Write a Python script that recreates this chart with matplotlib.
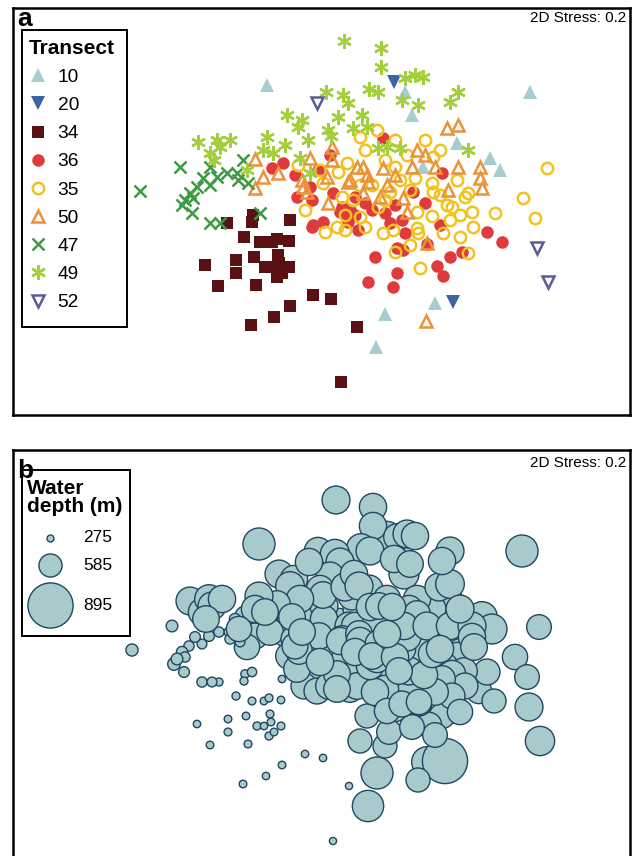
import matplotlib
matplotlib.use('Agg')
import matplotlib.pyplot as plt
from matplotlib.lines import Line2D
from matplotlib.patches import Rectangle

plt.rcParams['font.family'] = ['Liberation Sans', 'DejaVu Sans']

# ---- data: (NMDS1, NMDS2, water depth m) per transect ----
t10 = [(-0.53, 1.35, 720), (0.85, 1.28, 700), (0.92, 1.05, 690), (2.10, 1.28, 720),
       (1.37, 0.77, 680), (1.70, 0.62, 700), (1.80, 0.50, 690), (1.03, 0.53, 670),
       (1.15, -0.83, 700), (0.65, -0.94, 720), (0.56, -1.27, 710)]
t20 = [(0.74, 1.38, 820), (1.33, -0.82, 895)]
t34 = [(-0.93, -0.03, 300), (-0.67, 0.05, 310), (-0.68, -0.02, 300), (-0.30, 0.00, 285),
       (-0.76, -0.17, 300), (-0.60, -0.22, 295), (-0.48, -0.22, 290), (-0.43, -0.19, 300),
       (-0.31, -0.21, 290), (-1.15, -0.45, 285), (-0.84, -0.40, 290), (-0.84, -0.53, 295),
       (-0.66, -0.37, 290), (-0.55, -0.47, 300), (-0.42, -0.35, 295), (-0.41, -0.43, 290),
       (-0.43, -0.57, 300), (-0.38, -0.53, 290), (-0.31, -0.47, 295), (-0.48, -0.47, 285),
       (-1.02, -0.66, 290), (-0.64, -0.65, 295), (-0.07, -0.75, 285), (0.11, -0.79, 285),
       (-0.30, -0.86, 290), (-0.46, -0.97, 285), (-0.69, -1.05, 290), (0.37, -1.07, 280),
       (0.21, -1.62, 280)]
t36 = [(-0.48, 0.52, 630), (-0.37, 0.57, 640), (-0.25, 0.45, 650), (-0.23, 0.23, 640),
       (-0.10, 0.33, 650), (-0.08, 0.20, 660), (0.13, 0.27, 650), (0.20, 0.08, 640),
       (0.30, 0.10, 650), (-0.07, -0.05, 630), (0.03, -0.02, 640), (0.10, 0.65, 660),
       (0.63, 0.82, 660), (1.22, 0.47, 650), (0.93, 0.28, 660), (1.05, 0.17, 650),
       (0.27, 0.02, 640), (0.45, 0.17, 650), (0.65, 0.07, 660), (0.70, -0.03, 650),
       (0.82, 0.00, 640), (-0.08, -0.07, 630), (0.38, -0.10, 640), (0.85, -0.13, 650),
       (1.20, -0.05, 640), (1.67, -0.12, 620), (1.82, -0.22, 600), (0.77, -0.28, 630),
       (0.83, -0.30, 620), (0.55, -0.37, 600), (1.42, -0.32, 610), (1.30, -0.37, 620),
       (0.28, -0.02, 640), (0.48, -0.62, 600), (0.73, -0.67, 600), (0.77, -0.53, 610),
       (1.17, -0.46, 620), (1.23, -0.56, 610), (1.07, -0.24, 630), (-0.02, 0.50, 650),
       (0.35, 0.23, 660), (0.52, 0.10, 650), (0.75, 0.15, 660), (0.22, 0.13, 650),
       (0.35, 0.05, 650)]
t35 = [(0.00, 0.50, 650), (0.03, 0.37, 660), (0.27, 0.57, 650), (0.22, 0.23, 640),
       (0.33, 0.20, 650), (0.40, 0.03, 640), (0.57, 0.90, 660), (0.87, 0.65, 650),
       (1.13, 0.63, 660), (0.18, 0.48, 650), (0.75, 0.53, 660), (1.37, 0.40, 650),
       (2.27, 0.52, 610), (2.03, 0.22, 620), (2.15, 0.02, 610), (1.75, 0.07, 630),
       (1.48, 0.27, 640), (1.45, 0.23, 650), (1.27, 0.15, 640), (1.32, 0.13, 650),
       (1.52, 0.08, 640), (1.40, 0.05, 650), (1.53, -0.07, 630), (1.30, 0.00, 640),
       (0.97, -0.08, 650), (0.98, -0.13, 640), (0.73, -0.10, 650), (0.45, -0.07, 640),
       (0.63, -0.13, 650), (0.05, -0.12, 630), (0.17, -0.07, 640), (1.12, 0.37, 660),
       (1.13, 0.28, 650), (0.70, 0.28, 660), (0.58, 0.13, 650), (0.97, 0.08, 660),
       (0.75, -0.32, 620), (1.40, -0.17, 630), (1.48, -0.33, 620), (1.23, -0.13, 640),
       (1.00, -0.48, 610), (1.12, 0.04, 650), (0.45, 0.70, 660), (0.65, 0.60, 650),
       (0.80, 0.40, 660), (0.90, 0.30, 650), (0.52, 0.35, 660), (0.25, 0.05, 640),
       (-0.15, 0.10, 640), (-0.22, 0.55, 650), (1.20, 0.70, 660), (1.05, 0.80, 650),
       (0.40, 0.83, 660), (0.75, 0.80, 650), (0.95, 0.42, 660), (1.20, 0.25, 650),
       (0.40, 0.35, 650), (0.25, -0.10, 640), (0.90, -0.25, 630), (0.65, 0.20, 650)]
t50 = [(-0.65, 0.61, 620), (-0.57, 0.43, 630), (-0.65, 0.32, 620), (-0.42, 0.47, 640),
       (-0.10, 0.62, 650), (0.12, 0.73, 660), (0.12, 0.60, 650), (0.07, 0.43, 640),
       (-0.18, 0.40, 630), (-0.13, 0.28, 640), (0.08, 0.17, 650), (0.37, 0.53, 660),
       (0.43, 0.53, 650), (0.30, 0.40, 640), (1.27, 0.92, 660), (1.38, 0.95, 670),
       (0.97, 0.70, 650), (1.05, 0.65, 640), (0.92, 0.53, 650), (1.15, 0.53, 660),
       (1.38, 0.53, 650), (1.60, 0.53, 660), (1.60, 0.42, 650), (1.62, 0.32, 640),
       (1.28, 0.30, 650), (0.63, 0.52, 660), (0.28, 0.38, 650), (0.47, 0.45, 640),
       (0.48, 0.38, 650), (0.67, 0.35, 660), (-0.17, 0.33, 630), (0.43, 0.27, 650),
       (0.60, 0.23, 640), (0.83, 0.22, 650), (0.87, 0.08, 640), (1.07, -0.23, 620),
       (1.06, -1.01, 600), (0.75, 0.45, 650)]
t47 = [(-1.40, 0.53, 380), (-1.80, 0.29, 390), (-1.10, 0.53, 360), (-1.23, 0.33, 350),
       (-1.30, 0.27, 370), (-1.38, 0.15, 400), (-1.28, 0.07, 360), (-1.27, 0.22, 350),
       (-1.10, 0.35, 340), (-1.03, 0.43, 360), (-0.93, 0.47, 350), (-0.83, 0.47, 340),
       (-0.82, 0.40, 350), (-0.77, 0.60, 370), (-0.72, 0.37, 340), (-1.10, -0.03, 350),
       (-1.00, -0.03, 340), (-0.60, 0.07, 330), (-1.17, 0.42, 360), (-1.35, 0.20, 380)]
t49 = [(0.24, 1.79, 660), (0.61, 1.72, 650), (0.61, 1.53, 650), (0.85, 1.42, 640),
       (0.95, 1.45, 660), (1.03, 1.43, 650), (0.49, 1.31, 670), (0.58, 1.28, 660),
       (0.06, 1.28, 650), (0.23, 1.25, 680), (0.28, 1.17, 660), (0.82, 1.20, 650),
       (0.98, 1.15, 640), (1.38, 1.28, 660), (1.30, 1.18, 650), (-0.33, 1.05, 660),
       (-0.18, 1.00, 650), (-0.22, 0.93, 670), (0.18, 1.03, 660), (0.08, 0.90, 650),
       (0.11, 0.84, 640), (0.33, 0.92, 660), (0.42, 1.05, 650), (0.47, 0.93, 660),
       (-0.12, 0.80, 650), (-0.35, 0.75, 640), (-0.53, 0.83, 660), (-0.57, 0.70, 650),
       (-0.47, 0.67, 640), (-1.22, 0.78, 660), (-1.10, 0.67, 650), (-1.03, 0.80, 670),
       (-1.00, 0.73, 660), (-0.90, 0.80, 650), (-0.20, 0.62, 640), (-0.73, 0.50, 620),
       (-0.10, 0.47, 640), (0.58, 0.72, 650), (0.67, 0.73, 640), (0.80, 0.72, 650),
       (1.48, 0.70, 660), (-1.06, 0.60, 640)]
t52 = [(-0.03, 1.17, 650), (2.17, -0.28, 660), (2.28, -0.62, 680)]

transects = ['10', '20', '34', '36', '35', '50', '47', '49', '52']
series = [t10, t20, t34, t36, t35, t50, t47, t49, t52]
legend_depths = [275, 585, 895]

# ---- styles ----
styles = {
    '10': dict(marker='^', ms=10, mfc='#a6cdcf', mec='#a6cdcf', mew=0.0),
    '20': dict(marker='v', ms=10, mfc='#3c63a3', mec='#3c63a3', mew=0.0),
    '34': dict(marker='s', ms=8, mfc='#5a1113', mec='#5a1113', mew=0.0),
    '36': dict(marker='o', ms=9, mfc='#df3a3c', mec='#df3a3c', mew=0.0),
    '35': dict(marker='o', ms=8.2, mfc='none', mec='#f2c21f', mew=1.8),
    '50': dict(marker='^', ms=9.2, mfc='none', mec='#eb9338', mew=1.8),
    '47': dict(marker='x', ms=8, mfc='none', mec='#3f9a46', mew=1.8),
    '49': dict(marker=(6, 2, 0), ms=10.5, mfc='none', mec='#a3ce3e', mew=1.7),
    '52': dict(marker='v', ms=9.2, mfc='none', mec='#5b5a9e', mew=1.8),
}

W, H = 633, 856
fig = plt.figure(figsize=(W / 100, H / 100), dpi=100)

def px_axes(x0, x1, y0, y1):
    return fig.add_axes([x0 / W, 1 - y1 / H, (x1 - x0) / W, (y1 - y0) / H])

axA = px_axes(13, 630, 8, 415)
axB = px_axes(13, 630, 450, 859)

for ax in (axA, axB):
    ax.set_xticks([])
    ax.set_yticks([])
    for sp in ax.spines.values():
        sp.set_linewidth(1.8)
        sp.set_color('black')

axA.set_xlim(-3.07, 3.10)
axA.set_ylim(-1.95, 2.12)
axB.set_xlim(-2.99, 3.18)
axB.set_ylim(-1.80, 2.29)

# ---- panel a ----
handles = []
for name, pts in zip(transects, series):
    xs = [p[0] for p in pts]
    ys = [p[1] for p in pts]
    st = styles[name]
    axA.plot(xs, ys, ls='none', **st)
    handles.append(Line2D([], [], ls='none', label=name, **st))

def afx(px):
    return (px - 13) / 617

def afy(py):
    return (415 - py) / 407

axA.add_patch(Rectangle((afx(22), afy(327)), afx(127) - afx(22), afy(30) - afy(327),
                        transform=axA.transAxes, facecolor='white', edgecolor='black',
                        linewidth=1.4, zorder=4))
leg = axA.legend(handles=handles, loc='upper left',
                 bbox_to_anchor=(afx(22), afy(32)),
                 borderaxespad=0, fontsize=13.8, title='Transect',
                 title_fontproperties={'weight': 'bold', 'size': 15},
                 alignment='left', frameon=False,
                 labelspacing=0.56, borderpad=0.36, handlelength=0.95,
                 handletextpad=0.55)
leg.set_zorder(5)

axA.text(afx(17), afy(26.5), 'a', transform=axA.transAxes,
         fontsize=19, fontweight='bold', ha='left', va='baseline', zorder=6)
axA.text(afx(626), afy(22), '2D Stress: 0.2', transform=axA.transAxes,
         fontsize=11, ha='right', va='baseline')

# ---- panel b ----
def bubble_area(depth):
    diam_px = 7.0 * (depth / 275.0) ** 1.58
    return (diam_px * 0.72) ** 2

bx, by, bs = [], [], []
for pts in series:
    for p in pts:
        bx.append(p[0])
        by.append(p[1])
        bs.append(bubble_area(p[2]))

fill_c = '#a7cbcd'
edge_c = '#21465f'
axB.scatter(bx, by, s=bs, facecolor=fill_c, edgecolor=edge_c, linewidth=1.0, zorder=2)

def bfx(px):
    return (px - 13) / 617

def bfy(py):
    return (859 - py) / 409

axB.text(bfx(17), bfy(478), 'b', transform=axB.transAxes,
         fontsize=19, fontweight='bold', ha='left', va='baseline', zorder=6)
axB.text(bfx(626), bfy(467), '2D Stress: 0.2', transform=axB.transAxes,
         fontsize=11, ha='right', va='baseline')

# depth legend
axB.add_patch(Rectangle((bfx(22), bfy(636)), bfx(130) - bfx(22), bfy(470) - bfy(636),
                        transform=axB.transAxes, facecolor='white', edgecolor='black',
                        linewidth=1.4, zorder=5))
axB.text(bfx(27), bfy(479), 'Water\ndepth (m)', transform=axB.transAxes, fontsize=15,
         fontweight='bold', ha='left', va='top', linespacing=0.9, zorder=6)
leg_y = [538, 565, 605]
for d, yy in zip(legend_depths, leg_y):
    axB.scatter([bfx(50)], [bfy(yy)], s=[bubble_area(d)], facecolor=fill_c,
                edgecolor=edge_c, linewidth=1.0, transform=axB.transAxes, zorder=6,
                clip_on=False)
    axB.text(bfx(83), bfy(yy), str(d), transform=axB.transAxes, fontsize=12.5,
             ha='left', va='center', zorder=6)

fig.savefig('out.png', dpi=100)
